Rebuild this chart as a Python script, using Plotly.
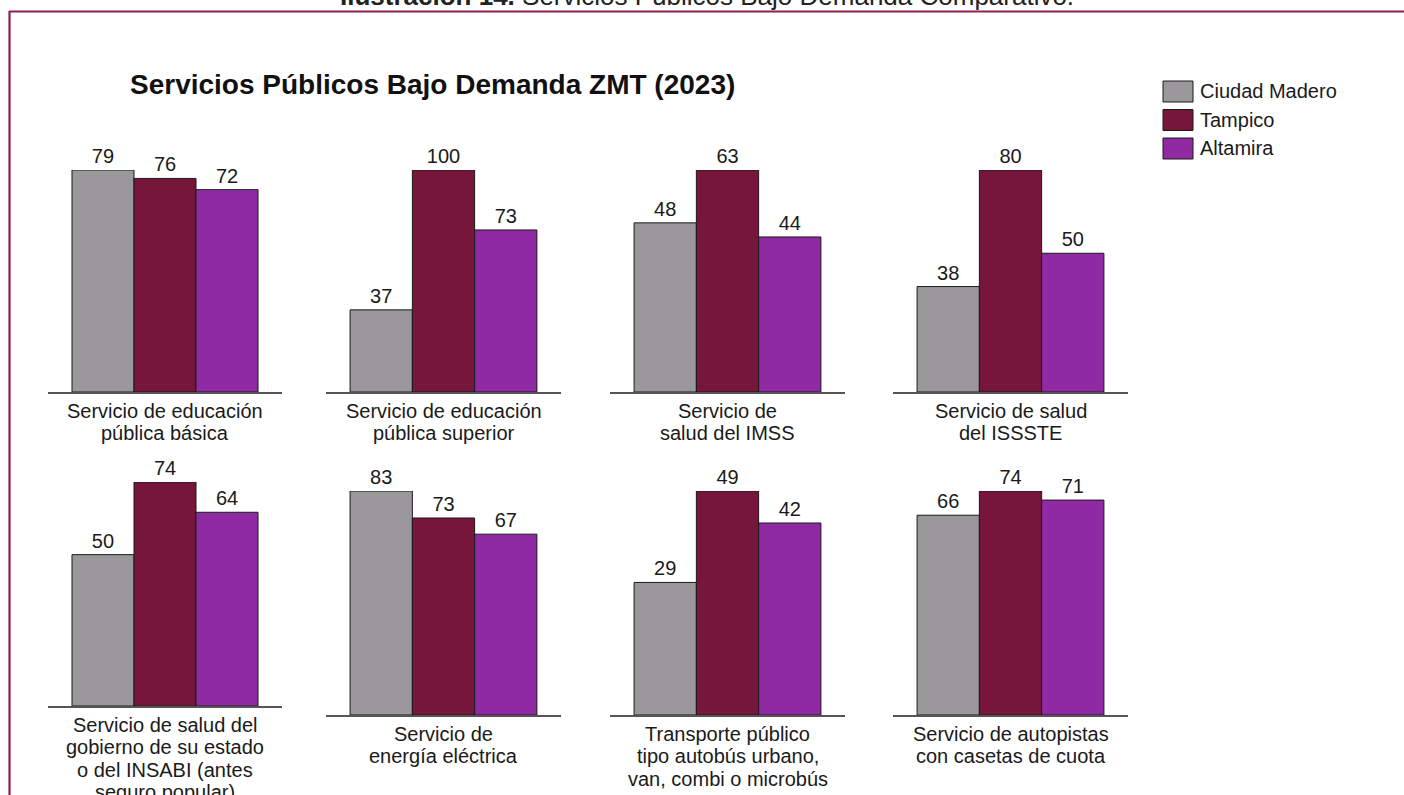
import plotly.graph_objects as go

# ---------------- data ----------------
categories = [
    ["Servicio de educación", "pública básica"],
    ["Servicio de educación", "pública superior"],
    ["Servicio de", "salud del IMSS"],
    ["Servicio de salud", "del ISSSTE"],
    ["Servicio de salud del", "gobierno de su estado", "o del INSABI (antes", "seguro popular)"],
    ["Servicio de", "energía eléctrica"],
    ["Transporte público", "tipo autobús urbano,", "van, combi o microbús"],
    ["Servicio de autopistas", "con casetas de cuota"],
]
series_names = ["Ciudad Madero", "Tampico", "Altamira"]
ciudad_madero = [79, 37, 48, 38, 50, 83, 29, 66]
tampico = [76, 100, 63, 80, 74, 73, 49, 74]
altamira = [72, 73, 44, 50, 64, 67, 42, 71]
series_values = [ciudad_madero, tampico, altamira]

title_text = "Servicios Públicos Bajo Demanda ZMT (2023)"
caption_text = "<b>Ilustración 14.</b> Servicios Públicos Bajo Demanda Comparativo."

# ---------------- style / layout ----------------
W, H = 1404, 795
colors = ["#9A989A", "#76163A", "#8F2AA2"]
FONT = "Liberation Sans, Arial, sans-serif"
col_px = [(48, 282), (326, 561), (610, 845), (893, 1128)]
# (top, baseline) for each panel in pixels
panel_y = [(170, 392)] * 4 + [(482, 706), (491, 715), (491, 715), (491, 715)]


def px_x(x):
    return x / W


def px_y(y):
    return 1 - y / H


fig = go.Figure()
layout_axes = {}
annotations = []

for i, lines in enumerate(categories):
    ax_id = "" if i == 0 else str(i + 1)
    x0, x1 = col_px[i % 4]
    top, base = panel_y[i]
    key = "c%d" % i
    for s, name in enumerate(series_names):
        v = series_values[s][i]
        fig.add_trace(go.Bar(
            x=[key], y=[v], name=name,
            xaxis="x" + ax_id, yaxis="y" + ax_id,
            marker=dict(color=colors[s], line=dict(color="#1a1a1a", width=1)),
            text=[str(v)], textposition="outside", cliponaxis=False,
            textfont=dict(family=FONT, size=20, color="#1a1a1a"),
            showlegend=False, hoverinfo="skip",
        ))
    ymax = max(series_values[s][i] for s in range(3))
    layout_axes["xaxis" + ax_id] = dict(
        domain=[px_x(x0), px_x(x1)], anchor="y" + ax_id,
        showline=True, linecolor="#555555", linewidth=1.6,
        showticklabels=False, ticks="", showgrid=False, zeroline=False,
        fixedrange=True,
    )
    layout_axes["yaxis" + ax_id] = dict(
        domain=[px_y(base), px_y(top)], anchor="x" + ax_id,
        range=[0, ymax], showline=False, showticklabels=False, ticks="",
        showgrid=False, zeroline=False, fixedrange=True,
    )
    cx = (x0 + x1) / 2
    for j, line in enumerate(lines):
        annotations.append(dict(
            x=px_x(cx), y=px_y(base + 19 + 22.3 * j), xref="paper", yref="paper",
            text=line, showarrow=False, xanchor="center", yanchor="middle",
            font=dict(family=FONT, size=20, color="#1a1a1a"),
        ))

# chart title
annotations.append(dict(
    x=px_x(128), y=px_y(85), xref="paper", yref="paper", text="<b>%s</b>" % title_text,
    showarrow=False, xanchor="left", yanchor="middle",
    font=dict(family=FONT, size=28, color="#111111"),
))
# cut caption at the very top
annotations.append(dict(
    x=px_x(707), y=px_y(13), xref="paper", yref="paper", text=caption_text,
    showarrow=False, xanchor="center", yanchor="bottom",
    font=dict(family=FONT, size=26, color="#222222"),
))

# manual legend
shapes = []
for s, name in enumerate(series_names):
    yc = 91.5 + 28.5 * s
    shapes.append(dict(type="rect", xref="paper", yref="paper",
                       x0=px_x(1163), x1=px_x(1193), y0=px_y(yc - 10.5), y1=px_y(yc + 10.5),
                       fillcolor=colors[s], line=dict(color="#1a1a1a", width=1)))
    annotations.append(dict(
        x=px_x(1198), y=px_y(yc), xref="paper", yref="paper", text=name,
        showarrow=False, xanchor="left", yanchor="middle",
        font=dict(family=FONT, size=20, color="#1a1a1a"),
    ))

# frame lines
shapes.append(dict(type="line", xref="paper", yref="paper",
                   x0=px_x(9), x1=1, y0=px_y(11.5), y1=px_y(11.5),
                   line=dict(color="#8A2050", width=2.2)))
shapes.append(dict(type="line", xref="paper", yref="paper",
                   x0=px_x(9.5), x1=px_x(9.5), y0=px_y(11), y1=0,
                   line=dict(color="#8A2050", width=2.2)))

fig.update_layout(
    width=W, height=H, margin=dict(l=0, r=0, t=0, b=0),
    paper_bgcolor="white", plot_bgcolor="white",
    barmode="group", bargap=0.205, bargroupgap=0,
    showlegend=False, annotations=annotations, shapes=shapes,
    font=dict(family=FONT),
    **layout_axes,
)

fig.write_html("out.html", config={"displayModeBar": False})
